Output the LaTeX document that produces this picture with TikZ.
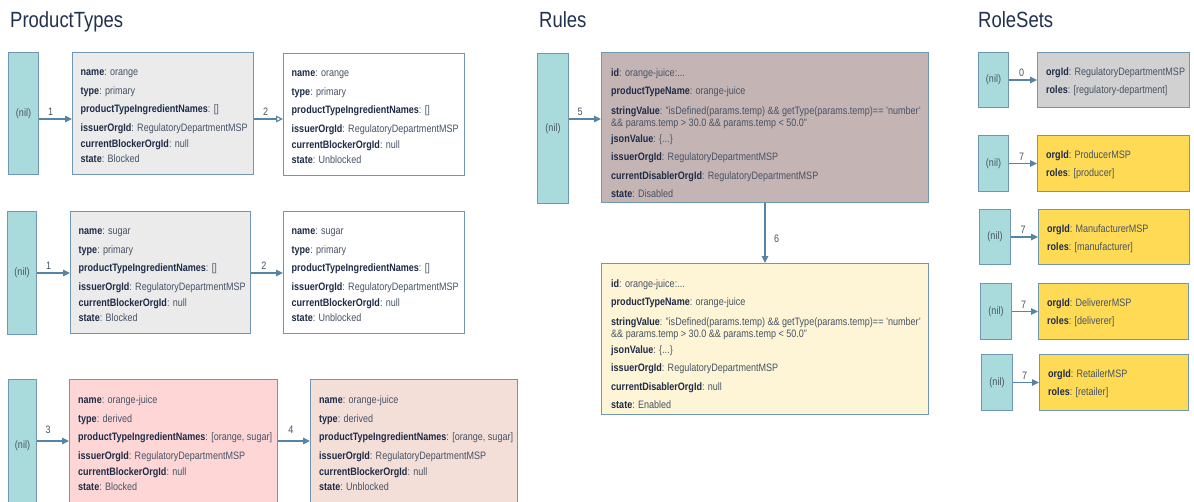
\documentclass[tikz,border=0pt]{standalone}
\usepackage{fontspec}
\setmainfont{Liberation Sans}[FakeStretch=0.84]
\usetikzlibrary{arrows.meta}

\definecolor{nilfill}{HTML}{A9DBDC}
\definecolor{edgeblue}{HTML}{5584A6}
\definecolor{boxline}{HTML}{6F96B2}
\definecolor{lblc}{HTML}{1D2B47}
\definecolor{valc}{HTML}{465365}
\definecolor{titlec}{HTML}{22314F}
\definecolor{graybox}{HTML}{EBEBEB}
\definecolor{pinkbox}{HTML}{FED6D6}
\definecolor{salmonbox}{HTML}{F4DED8}
\definecolor{mauvebox}{HTML}{C5B4B4}
\definecolor{creambox}{HTML}{FEF5D6}
\definecolor{rolegray}{HTML}{D1D1D1}
\definecolor{roleyellow}{HTML}{FFDA55}

% a bold key followed by its value
\newcommand{\fieldkv}[2]{{\bfseries\color{lblc}#1}: #2}

% text blocks are anchored on the baseline of their last line
\tikzset{
  x=1pt, y=-1pt,
  nilbox/.style={draw=boxline, fill=nilfill, line width=1pt, inner sep=0pt,
    anchor=north west, text=valc, font=\fontsize{10.75}{12}\selectfont},
  recbox/.style={draw=boxline, line width=1pt, inner sep=0pt, anchor=north west},
  rectext/.style={anchor=base west, align=left, inner sep=0pt,
    font=\fontsize{10.75}{12}\selectfont, text=valc},
  link/.style={draw=edgeblue, line width=1.1pt, -{Triangle[length=7pt,width=6.5pt]}},
  openlink/.style={draw=edgeblue, line width=1.1pt, -{Triangle[open,length=7pt,width=6.5pt]}},
  linklabel/.style={font=\fontsize{10.75}{12}\selectfont, text=valc, inner sep=2.5pt},
  sectiontitle/.style={anchor=base west, inner sep=0pt,
    font=\fontsize{22}{26}\selectfont, text=titlec},
}

\begin{document}
\begin{tikzpicture}
\useasboundingbox (0,0) rectangle (1194,501);
\clip (0,0) rectangle (1194,501);
\fill[white] (0,0) rectangle (1194,501);

% ---------------- section titles ----------------
\node[sectiontitle] (tpt) at (10,27) {ProductTypes};
\node[sectiontitle] (tru) at (539,27) {Rules};
\node[sectiontitle] (trs) at (978,27) {RoleSets};

% ---------------- ProductTypes: orange ----------------
\node[nilbox, minimum width=30pt, minimum height=122pt] (pn1) at (8,52) {(nil)};
\node[recbox, fill=graybox, minimum width=181pt, minimum height=122pt] (pa1) at (72,52) {};
\node[recbox, fill=white, minimum width=181pt, minimum height=122pt] (pb1) at (283,53) {};
\node[rectext] (pa1t) at ([shift={(8.5,110)}]pa1.north west) {%
  \fieldkv{name}{orange}\\[6.5pt]
  \fieldkv{type}{primary}\\[6pt]
  \fieldkv{productTypeIngredientNames}{[]}\\[7pt]
  \fieldkv{issuerOrgId}{RegulatoryDepartmentMSP}\\[4pt]
  \fieldkv{currentBlockerOrgId}{null}\\[3pt]
  \fieldkv{state}{Blocked}};
\node[rectext] (pb1t) at ([shift={(8.5,110)}]pb1.north west) {%
  \fieldkv{name}{orange}\\[6.5pt]
  \fieldkv{type}{primary}\\[6pt]
  \fieldkv{productTypeIngredientNames}{[]}\\[7pt]
  \fieldkv{issuerOrgId}{RegulatoryDepartmentMSP}\\[4pt]
  \fieldkv{currentBlockerOrgId}{null}\\[3pt]
  \fieldkv{state}{Unblocked}};
\draw[link] ([yshift=-67pt]pn1.north east) -- node[linklabel, above, pos=0.35] (l1a) {1} ([yshift=-67pt]pa1.north west);
\draw[openlink] ([yshift=-67pt]pa1.north east) -- node[linklabel, above, pos=0.4] (l2a) {2} ([yshift=-66pt]pb1.north west);

% ---------------- ProductTypes: sugar ----------------
\node[nilbox, minimum width=29pt, minimum height=123pt] (pn2) at (7,211) {(nil)};
\node[recbox, fill=graybox, minimum width=180pt, minimum height=122pt] (pa2) at (70,211) {};
\node[recbox, fill=white, minimum width=181pt, minimum height=122pt] (pb2) at (283,211) {};
\node[rectext] (pa2t) at ([shift={(8.5,110)}]pa2.north west) {%
  \fieldkv{name}{sugar}\\[6.5pt]
  \fieldkv{type}{primary}\\[6pt]
  \fieldkv{productTypeIngredientNames}{[]}\\[7pt]
  \fieldkv{issuerOrgId}{RegulatoryDepartmentMSP}\\[4pt]
  \fieldkv{currentBlockerOrgId}{null}\\[3pt]
  \fieldkv{state}{Blocked}};
\node[rectext] (pb2t) at ([shift={(8.5,110)}]pb2.north west) {%
  \fieldkv{name}{sugar}\\[6.5pt]
  \fieldkv{type}{primary}\\[6pt]
  \fieldkv{productTypeIngredientNames}{[]}\\[7pt]
  \fieldkv{issuerOrgId}{RegulatoryDepartmentMSP}\\[4pt]
  \fieldkv{currentBlockerOrgId}{null}\\[3pt]
  \fieldkv{state}{Unblocked}};
\draw[link] ([yshift=-62pt]pn2.north east) -- node[linklabel, above, pos=0.35] (l1b) {1} ([yshift=-62pt]pa2.north west);
\draw[link] ([yshift=-62pt]pa2.north east) -- node[linklabel, above, pos=0.4] (l2b) {2} ([yshift=-62pt]pb2.north west);

% ---------------- ProductTypes: orange-juice ----------------
\node[nilbox, minimum width=28pt, minimum height=132pt] (pn3) at (8,379) {(nil)};
\node[recbox, fill=pinkbox, minimum width=208pt, minimum height=132pt] (pa3) at (69,379) {};
\node[recbox, fill=salmonbox, minimum width=207pt, minimum height=132pt] (pb3) at (310,379) {};
\node[rectext] (pa3t) at ([shift={(9,111)}]pa3.north west) {%
  \fieldkv{name}{orange-juice}\\[6.5pt]
  \fieldkv{type}{derived}\\[6pt]
  \fieldkv{productTypeIngredientNames}{[orange, sugar]}\\[7pt]
  \fieldkv{issuerOrgId}{RegulatoryDepartmentMSP}\\[4pt]
  \fieldkv{currentBlockerOrgId}{null}\\[3pt]
  \fieldkv{state}{Blocked}};
\node[rectext] (pb3t) at ([shift={(9,111)}]pb3.north west) {%
  \fieldkv{name}{orange-juice}\\[6.5pt]
  \fieldkv{type}{derived}\\[6pt]
  \fieldkv{productTypeIngredientNames}{[orange, sugar]}\\[7pt]
  \fieldkv{issuerOrgId}{RegulatoryDepartmentMSP}\\[4pt]
  \fieldkv{currentBlockerOrgId}{null}\\[3pt]
  \fieldkv{state}{Unblocked}};
\draw[link] ([yshift=-62pt]pn3.north east) -- node[linklabel, above=4pt, pos=0.35] (l3) {3} ([yshift=-62pt]pa3.north west);
\draw[link] ([yshift=-62pt]pa3.north east) -- node[linklabel, above=4pt, pos=0.4] (l4) {4} ([yshift=-62pt]pb3.north west);

% ---------------- Rules ----------------
\node[nilbox, minimum width=31pt, minimum height=150pt] (rn) at (537,53) {(nil)};
\node[recbox, fill=mauvebox, minimum width=327pt, minimum height=150pt] (ra) at (601,52) {};
\node[recbox, fill=creambox, minimum width=327pt, minimum height=151pt] (rb) at (601,263) {};
\node[rectext] (rat) at ([shift={(10,145)}]ra.north west) {%
  \fieldkv{id}{orange-juice:...}\\[6pt]
  \fieldkv{productTypeName}{orange-juice}\\[8pt]
  \fieldkv{stringValue}{"isDefined(params.temp) \&\& getType(params.temp)== 'number'}\\
  \&\& params.temp > 30.0 \&\& params.temp < 50.0"\\[4.5pt]
  \fieldkv{jsonValue}{\{...\}}\\[5.5pt]
  \fieldkv{issuerOrgId}{RegulatoryDepartmentMSP}\\[7pt]
  \fieldkv{currentDisablerOrgId}{RegulatoryDepartmentMSP}\\[6pt]
  \fieldkv{state}{Disabled}};
\node[rectext] (rbt) at ([shift={(10,145)}]rb.north west) {%
  \fieldkv{id}{orange-juice:...}\\[6pt]
  \fieldkv{productTypeName}{orange-juice}\\[8pt]
  \fieldkv{stringValue}{"isDefined(params.temp) \&\& getType(params.temp)== 'number'}\\
  \&\& params.temp > 30.0 \&\& params.temp < 50.0"\\[4.5pt]
  \fieldkv{jsonValue}{\{...\}}\\[5.5pt]
  \fieldkv{issuerOrgId}{RegulatoryDepartmentMSP}\\[7pt]
  \fieldkv{currentDisablerOrgId}{null}\\[6pt]
  \fieldkv{state}{Enabled}};
\draw[link] ([yshift=-66pt]rn.north east) -- node[linklabel, above, pos=0.35] (l5) {5} ([yshift=-67pt]ra.north west);
\draw[link] (ra.south) -- node[linklabel, right=6pt, pos=0.6] (l6) {6} (rb.north);

% ---------------- RoleSets ----------------
\node[nilbox, minimum width=30pt, minimum height=55pt] (sn0) at (978,52) {(nil)};
\node[recbox, fill=rolegray, minimum width=152pt, minimum height=55pt] (sr0) at (1037,52) {};
\node[rectext] (sr0t) at ([shift={(9,41.5)}]sr0.north west) {%
  \fieldkv{orgId}{RegulatoryDepartmentMSP}\\[6pt]
  \fieldkv{roles}{[regulatory-department]}};
\draw[link] (sn0.east) -- node[linklabel, above, pos=0.45] (l0) {0} (sr0.west |- sn0.east);

\node[nilbox, minimum width=30pt, minimum height=56pt] (sn1) at (978,135) {(nil)};
\node[recbox, fill=roleyellow, minimum width=152pt, minimum height=56pt] (sr1) at (1037,135) {};
\node[rectext] (sr1t) at ([shift={(9,41.5)}]sr1.north west) {%
  \fieldkv{orgId}{ProducerMSP}\\[6pt]
  \fieldkv{roles}{[producer]}};
\draw[link] (sn1.east) -- node[linklabel, above, pos=0.45] (l7a) {7} (sr1.west |- sn1.east);

\node[nilbox, minimum width=31pt, minimum height=55pt] (sn2) at (979,209) {(nil)};
\node[recbox, fill=roleyellow, minimum width=151pt, minimum height=55pt] (sr2) at (1038,209) {};
\node[rectext] (sr2t) at ([shift={(9,41.5)}]sr2.north west) {%
  \fieldkv{orgId}{ManufacturerMSP}\\[6pt]
  \fieldkv{roles}{[manufacturer]}};
\draw[link] (sn2.east) -- node[linklabel, above, pos=0.45] (l7b) {7} (sr2.west |- sn2.east);

\node[nilbox, minimum width=31pt, minimum height=56pt] (sn3) at (980,283) {(nil)};
\node[recbox, fill=roleyellow, minimum width=150pt, minimum height=56pt] (sr3) at (1038,283) {};
\node[rectext] (sr3t) at ([shift={(9,41.5)}]sr3.north west) {%
  \fieldkv{orgId}{DelivererMSP}\\[6pt]
  \fieldkv{roles}{[deliverer]}};
\draw[link] (sn3.east) -- node[linklabel, above, pos=0.45] (l7c) {7} (sr3.west |- sn3.east);

\node[nilbox, minimum width=31pt, minimum height=56pt] (sn4) at (981,354) {(nil)};
\node[recbox, fill=roleyellow, minimum width=149pt, minimum height=56pt] (sr4) at (1039,354) {};
\node[rectext] (sr4t) at ([shift={(9,41.5)}]sr4.north west) {%
  \fieldkv{orgId}{RetailerMSP}\\[6pt]
  \fieldkv{roles}{[retailer]}};
\draw[link] (sn4.east) -- node[linklabel, above, pos=0.45] (l7d) {7} (sr4.west |- sn4.east);
\end{tikzpicture}
\end{document}
